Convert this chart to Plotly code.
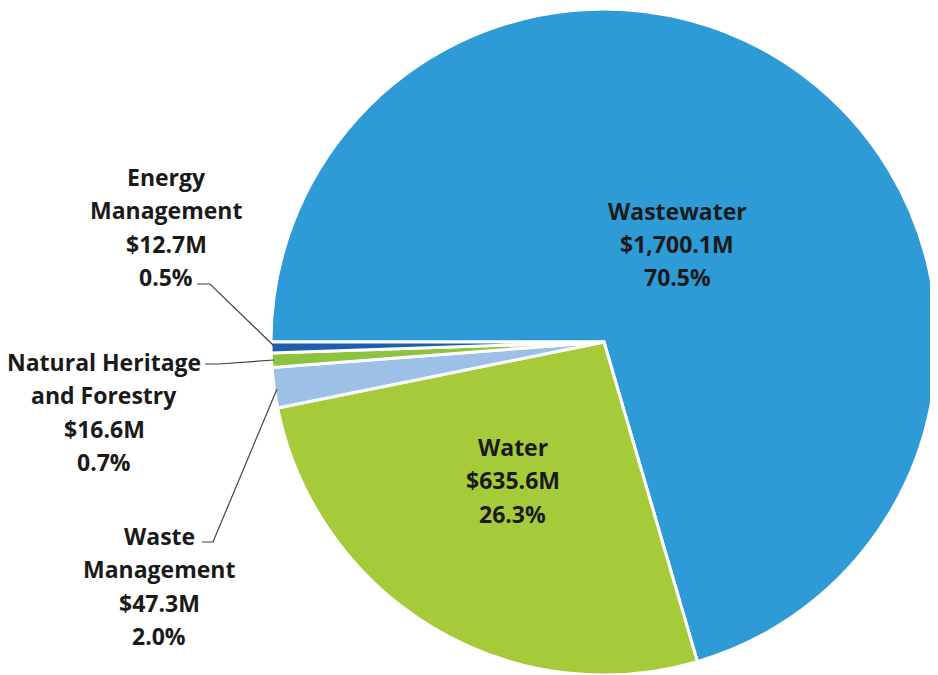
import plotly.graph_objects as go

W, H = 938, 675
OFF = 8  # page body margin offset

categories = ["Wastewater", "Water", "Waste Management", "Natural Heritage and Forestry", "Energy Management"]
values_m = [1700.1, 635.6, 47.3, 16.6, 12.7]
percents = ["70.5%", "26.3%", "2.0%", "0.7%", "0.5%"]
label_lines = [["Wastewater"], ["Water"], ["Waste", "Management"], ["Natural Heritage", "and Forestry"], ["Energy", "Management"]]
colors = ["#2E9BD6", "#A5CB3A", "#9DC0E6", "#8CC43F", "#1F5DAE"]

def px(x):
    return (x - OFF) / W

def py(y):
    return 1 - (y - OFF) / H

fig = go.Figure()
fig.add_trace(go.Pie(
    labels=categories,
    values=values_m,
    sort=False,
    direction="clockwise",
    rotation=270,
    marker=dict(colors=colors, line=dict(color="white", width=3)),
    textinfo="none",
    hoverinfo="label+value+percent",
    showlegend=False,
    domain=dict(x=[px(271), px(937)], y=[py(675), py(9)]),
))

# label block centres (pixel positions) and line spacing
label_pos = [(677, 244), (513, 480), (159, 586), (104, 412), (166, 227)]
line_gap = 33.5
font = dict(family="Open Sans", size=23, color="#1a1a1a")

for i, cat in enumerate(categories):
    lines = label_lines[i] + ["$" + f"{values_m[i]:,.1f}" + "M", percents[i]]
    cx, cy = label_pos[i]
    n = len(lines)
    for j, t in enumerate(lines):
        yy = cy + (j - (n - 1) / 2) * line_gap
        fig.add_annotation(x=px(cx), y=py(yy), xref="paper", yref="paper",
                           text="<b>" + t + "</b>", showarrow=False,
                           font=font, xanchor="center", yanchor="middle")

# leader lines
leaders = [
    [(197, 284), (210, 284), (274, 346)],
    [(205, 364), (219, 364), (274, 360)],
    [(202, 542), (213, 542), (277, 389)],
]
for pts in leaders:
    path = "M " + " L ".join(f"{px(x)},{py(y)}" for x, y in pts)
    fig.add_shape(type="path", path=path, xref="paper", yref="paper",
                  line=dict(color="#404040", width=1.2))

fig.update_layout(width=W, height=H, margin=dict(l=0, r=0, t=0, b=0),
                  paper_bgcolor="white", plot_bgcolor="white")

fig.write_html("out.html")
